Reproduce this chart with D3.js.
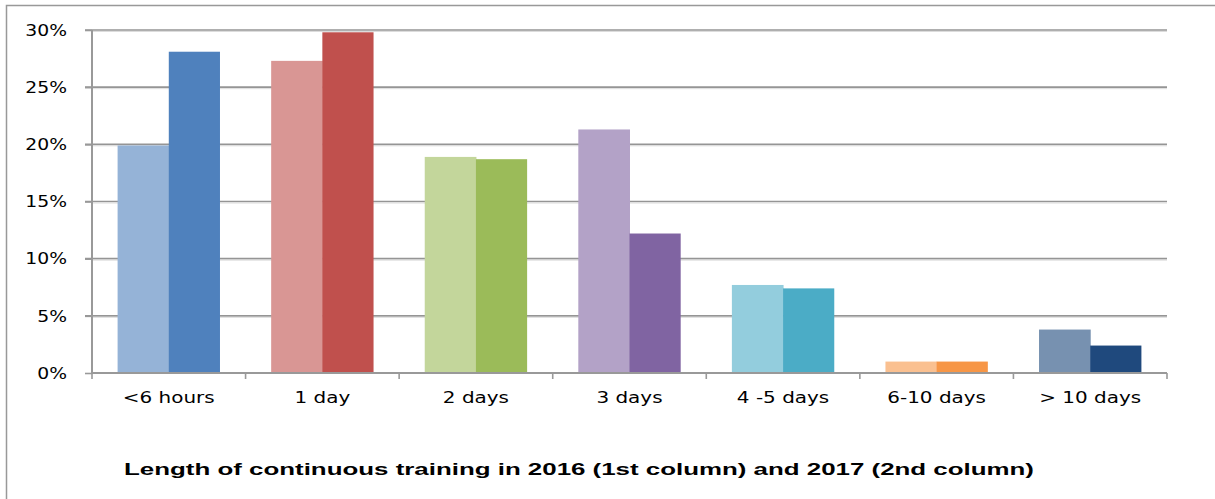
<!DOCTYPE html>
<html><head><meta charset="utf-8">
<script src="https://cdn.jsdelivr.net/npm/d3@7/dist/d3.min.js"></script>
<style>html,body{margin:0;padding:0;background:#fff;}svg{display:block;}</style>
</head><body>
<script>
const categories = ["<6 hours","1 day","2 days","3 days","4 -5 days","6-10 days","> 10 days"];
const values2016 = [19.9, 27.3, 18.9, 21.3, 7.7, 1.0, 3.8];
const values2017 = [28.1, 29.8, 18.7, 12.2, 7.4, 1.0, 2.4];
const colors2016 = ["#95B3D7","#D99694","#C3D69B","#B3A2C7","#93CDDD","#FAC090","#7791B0"];
const colors2017 = ["#4F81BD","#C0504D","#9BBB59","#8064A2","#4BACC6","#F79646","#1F497D"];
const yTicks = [0,5,10,15,20,25,30];
const title = "Length of continuous training in 2016 (1st column)  and 2017 (2nd column)";

(function(){
const W = 1215, H = 499;
const svg = d3.select("body").append("svg").attr("width", W).attr("height", H);

// frame
svg.append("path").attr("d", `M6.5,${H} L6.5,5.5 L${W},5.5`).attr("fill","none").attr("stroke","#999").attr("stroke-width",1.5);

const pLeft = 92, pRight = 1167, pTop = 30, pBottom = 373;
const x = d3.scaleBand().domain(categories).range([pLeft, pRight]).paddingInner(0).paddingOuter(0);
const y = d3.scaleLinear().domain([0, 30]).range([pBottom, pTop]);

function stretch(sel, k) {
  sel.each(function() {
    const L = this.getComputedTextLength();
    d3.select(this).attr("textLength", L * k).attr("lengthAdjust", "spacingAndGlyphs");
  });
}

// gridlines
svg.append("g").selectAll("line").data(yTicks.filter(d => d > 0)).join("line")
  .attr("x1", pLeft - 7).attr("x2", pRight).attr("y1", d => y(d)).attr("y2", d => y(d))
  .attr("stroke", "#959595").attr("stroke-width", 1.6);
svg.append("g").selectAll("line").data(yTicks.filter(d => d > 0)).join("line")
  .attr("x1", pLeft).attr("x2", pRight).attr("y1", d => y(d) + 1.5).attr("y2", d => y(d) + 1.5)
  .attr("stroke", "#dcdcdc").attr("stroke-width", 1);

// bars
const bw = x.bandwidth() / 3;
const g = svg.append("g");
g.selectAll("rect.a").data(categories).join("rect").attr("class","a")
  .attr("x", d => x(d) + x.bandwidth()/2 - bw)
  .attr("width", bw + 0.5)
  .attr("y", (d,i) => y(values2016[i]))
  .attr("height", (d,i) => y(0) - y(values2016[i]))
  .attr("fill", (d,i) => colors2016[i]);
g.selectAll("rect.b").data(categories).join("rect").attr("class","b")
  .attr("x", d => x(d) + x.bandwidth()/2)
  .attr("width", bw)
  .attr("y", (d,i) => y(values2017[i]))
  .attr("height", (d,i) => y(0) - y(values2017[i]))
  .attr("fill", (d,i) => colors2017[i]);

// y axis
const yAxis = d3.axisLeft(y).tickValues(yTicks).tickFormat(d => d + "%").tickSize(7).tickPadding(18);
const ya = svg.append("g").attr("transform", `translate(${pLeft},0)`).call(yAxis);
ya.select(".domain").attr("stroke", "#999").attr("stroke-width", 2).attr("d", `M0,${pTop}V${pBottom}`);
ya.selectAll(".tick line").attr("stroke", "#999").attr("stroke-width", 1.6);
ya.selectAll("text").attr("font-family", "DejaVu Sans, Verdana, sans-serif").attr("font-size", 15).attr("fill", "#000")
  .attr("dy", "0.35em");
stretch(ya.selectAll("text"), 1.25);

// x axis
const xTicksPos = d3.range(categories.length + 1).map(i => pLeft + i * x.bandwidth());
const xa = svg.append("g");
xa.append("line").attr("x1", pLeft).attr("x2", pRight).attr("y1", pBottom).attr("y2", pBottom)
  .attr("stroke", "#999").attr("stroke-width", 2);
xa.selectAll("line.t").data(xTicksPos).join("line").attr("class","t")
  .attr("x1", d => d).attr("x2", d => d).attr("y1", pBottom).attr("y2", pBottom + 6)
  .attr("stroke", "#999").attr("stroke-width", 1.6);
const xl = xa.selectAll("text").data(categories).join("text")
  .attr("x", d => x(d) + x.bandwidth()/2).attr("y", 403)
  .attr("text-anchor", "middle")
  .attr("font-family", "DejaVu Sans, Verdana, sans-serif").attr("font-size", 15).attr("fill", "#000")
  .text(d => d);
stretch(xl, 1.33);

// title
svg.append("text").attr("x", 579).attr("y", 475).attr("text-anchor", "middle")
  .attr("font-family", "Liberation Sans, Arial, sans-serif").attr("font-weight", "bold")
  .attr("font-size", 17).attr("fill", "#000")
  .attr("textLength", 910).attr("lengthAdjust", "spacingAndGlyphs")
  .text(title);
})();
</script>
</body></html>
